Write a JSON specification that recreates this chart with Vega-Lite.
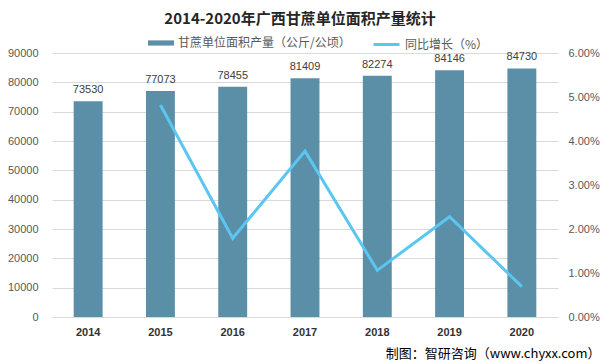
{
  "$schema": "https://vega.github.io/schema/vega-lite/v6.json",
  "width": 506,
  "height": 264,
  "autosize": {"type": "none"},
  "padding": {"left": 52, "top": 53, "right": 48, "bottom": 47},
  "background": "white",
  "config": {
    "font": "Noto Sans CJK SC",
    "view": {"stroke": null},
    "axis": {"labelFont": "Liberation Sans", "labelFontSize": 11, "labelColor": "#595959", "ticks": false, "domain": false, "grid": false}
  },
  "title": {
    "text": "2014-2020年广西甘蔗单位面积产量统计",
    "fontSize": 15,
    "fontWeight": "bold",
    "color": "#262626",
    "anchor": "middle",
    "frame": "group",
    "offset": 3,
    "dx": -5
  },
  "data": {
    "values": [
      {"year": "2014", "yield": 73530, "growth": null},
      {"year": "2015", "yield": 77073, "growth": 0.0482},
      {"year": "2016", "yield": 78455, "growth": 0.0179},
      {"year": "2017", "yield": 81409, "growth": 0.0377},
      {"year": "2018", "yield": 82274, "growth": 0.0106},
      {"year": "2019", "yield": 84146, "growth": 0.0228},
      {"year": "2020", "yield": 84730, "growth": 0.0069}
    ]
  },
  "encoding": {
    "x": {
      "field": "year",
      "type": "nominal",
      "scale": {"paddingInner": 0.6, "paddingOuter": 0.3},
      "axis": {
        "labelAngle": 0,
        "labelFontWeight": "bold",
        "labelColor": "#333333",
        "labelFontSize": 11,
        "labelPadding": 9,
        "domain": true,
        "domainColor": "#d9d9d9",
        "title": "制图：智研咨询（www.chyxx.com）",
        "titleFont": "Noto Sans CJK SC",
        "titleFontSize": 13,
        "titleFontWeight": "normal",
        "titleColor": "#000000",
        "titleAlign": "right",
        "titleBaseline": "middle",
        "titleX": 548,
        "titleY": 36
      }
    }
  },
  "layer": [
    {
      "encoding": {
        "y": {
          "field": "yield",
          "type": "quantitative",
          "scale": {"domain": [0, 90000]},
          "axis": {
            "values": [0, 10000, 20000, 30000, 40000, 50000, 60000, 70000, 80000, 90000],
            "format": "d",
            "grid": true,
            "gridColor": "#d9d9d9",
            "labelPadding": 14,
            "title": null
          }
        }
      },
      "layer": [
        {
          "mark": {"type": "bar", "color": "#5b8fa8"},
          "encoding": {
            "color": {
              "datum": "甘蔗单位面积产量（公斤/公顷）",
              "scale": {"range": ["#5b8fa8"]},
              "legend": {
                "title": null,
                "orient": "none",
                "legendX": 96,
                "legendY": -23,
                "symbolType": "M-1,-0.2H1V0.2H-1Z",
                "symbolSize": 676,
                "symbolStrokeWidth": 0,
                "labelFontSize": 12,
                "labelLimit": 400,
                "labelColor": "#595959",
                "labelFont": "Noto Sans CJK SC"
              }
            }
          }
        },
        {
          "mark": {"type": "text", "dy": -11, "fontSize": 11, "color": "#404040", "font": "Liberation Sans"},
          "encoding": {"text": {"field": "yield", "type": "quantitative", "format": "d"}}
        }
      ]
    },
    {
      "transform": [{"filter": "datum.growth != null"}],
      "mark": {"type": "line", "strokeWidth": 3, "color": "#5bc6f0"},
      "encoding": {
        "y": {
          "field": "growth",
          "type": "quantitative",
          "scale": {"domain": [0, 0.06]},
          "axis": {
            "orient": "right",
            "format": ".2%",
            "values": [0, 0.01, 0.02, 0.03, 0.04, 0.05, 0.06],
            "labelPadding": 10,
            "title": null
          }
        },
        "color": {
          "datum": "同比增长（%）",
          "scale": {"range": ["#5bc6f0"]},
          "legend": {
            "title": null,
            "orient": "none",
            "legendX": 320,
            "legendY": -23,
            "symbolType": "stroke",
            "symbolSize": 676,
            "symbolStrokeWidth": 3,
            "labelFontSize": 12,
            "labelLimit": 400,
            "labelColor": "#595959",
            "labelFont": "Noto Sans CJK SC"
          }
        }
      }
    }
  ],
  "resolve": {"scale": {"y": "independent", "color": "independent"}, "legend": {"color": "independent"}}
}
